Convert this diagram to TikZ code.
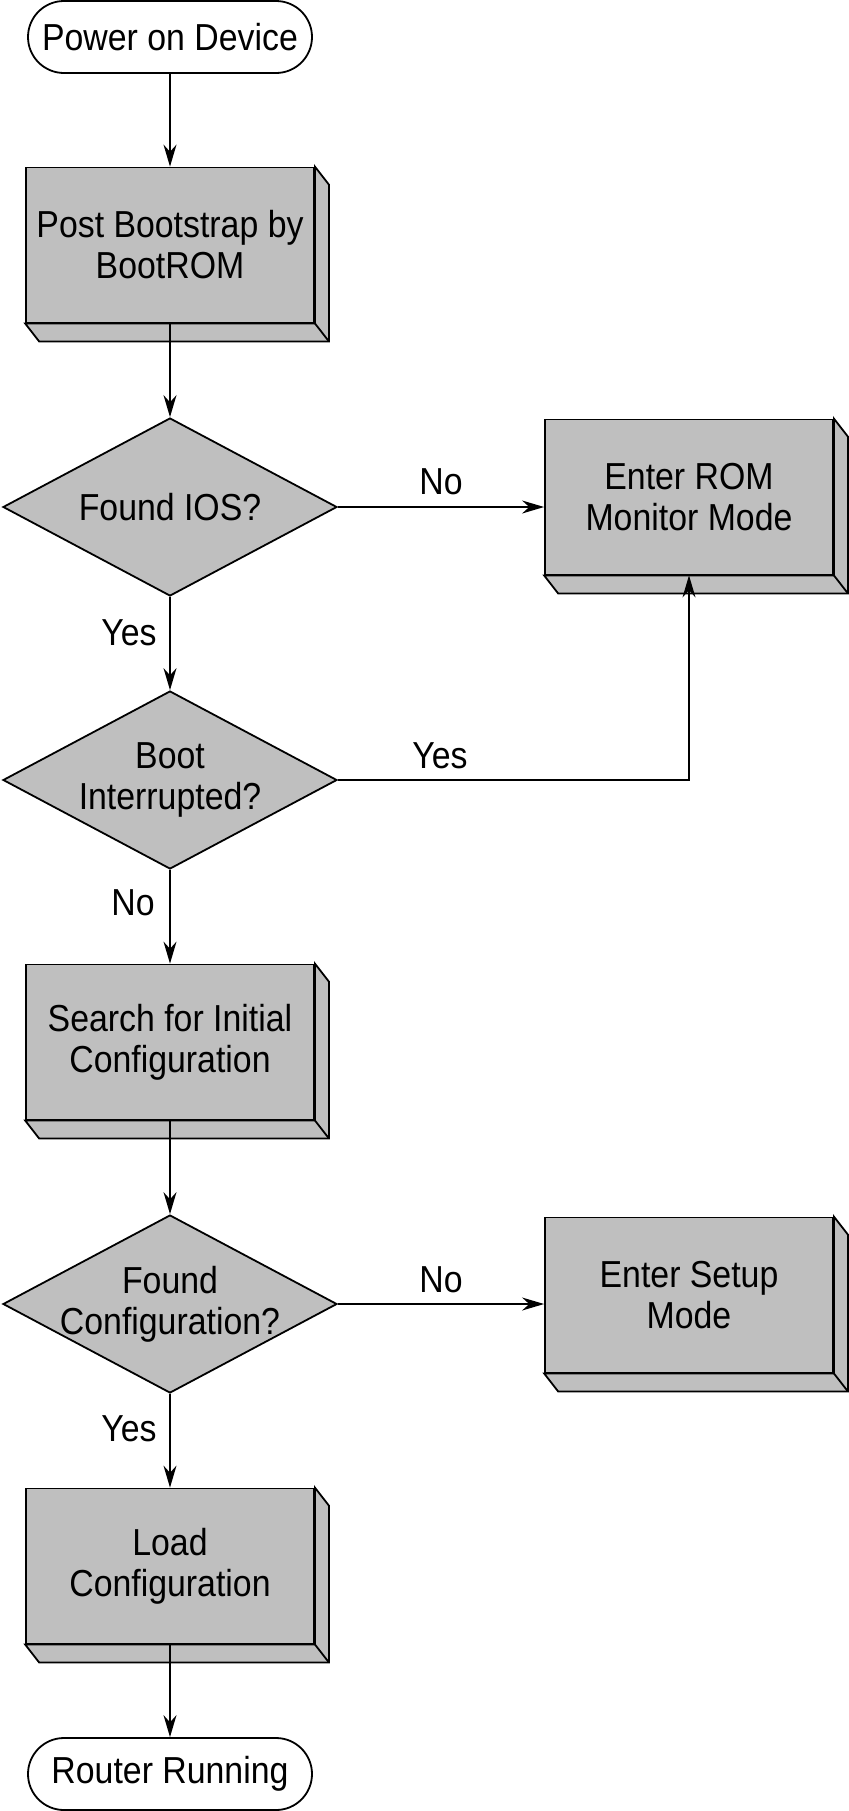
\documentclass[tikz,border=0pt]{standalone}
\usepackage{fontspec}
\setmainfont[FakeStretch=0.9]{Liberation Sans}
\usetikzlibrary{shapes.geometric,arrows.meta}
\begin{document}
\begin{tikzpicture}[x=0.5pt, y=-0.5pt, >={Stealth[length=11pt,width=6.5pt]},
		font=\fontsize{18.8}{20.5}\selectfont,
		term/.style={draw, line width=0.9pt, rounded corners=18pt, minimum width=142pt, minimum height=36pt},
		block/.style={draw, line width=0.9pt, fill=black!25, align=center, minimum width=144pt, minimum height=77.5pt},
		test/.style={diamond, draw, line width=0.9pt, fill=black!25, minimum width=167pt, minimum height=89pt, inner sep=0pt,
			label={[align=center]center:#1}},
		face/.style={draw, line width=0.9pt, fill=black!25},
		flow/.style={->, line width=0.8pt}]
	\useasboundingbox (0,0) rectangle (848,1811);
	% main column
	\node[term]  (power)     at (170,37)   {Power on Device};
	\node[block] (boot)      at (170,245)  {Post Bootstrap by\\BootROM};
	\node[test={Found IOS?}]               (foundios)  at (170,507)  {};
	\node[test={Boot\\Interrupted?}]       (interrupt) at (170,780)  {};
	\node[block] (search)    at (170,1042) {Search for Initial\\Configuration};
	\node[test={Found\\Configuration?}]    (foundcfg)  at (170,1304) {};
	\node[block] (load)      at (170,1566) {Load\\Configuration};
	\node[term]  (router)    at (170,1774) {Router Running};
	% right column
	\node[block] (rom)       at (689,497)  {Enter ROM\\Monitor Mode};
	\node[block] (setup)     at (689,1295) {Enter Setup\\Mode};
	% depth of the boxes
	\foreach \b in {boot,rom,search,setup,load}{
		\filldraw[face] (\b.north east) -- ++(14,18) -- ([shift={(14,18)}]\b.south east)
			-- ([shift={(14,18)}]\b.south west) -- (\b.south west) -- (\b.south east) -- cycle;
		\draw[line width=0.9pt] (\b.south east) -- ++(14,18);
	}
	% connectors
	\draw[flow] (power) -- (boot);
	\draw[flow] (boot.south) -- (foundios);
	\draw[flow] (foundios.east) -- (foundios.east -| rom.west);
	\draw[flow] (foundios) -- (interrupt);
	\draw[flow] (interrupt.east) -| (rom.south);
	\draw[flow] (interrupt) -- (search);
	\draw[flow] (search.south) -- (foundcfg);
	\draw[flow] (foundcfg.east) -- (foundcfg.east -| setup.west);
	\draw[flow] (foundcfg) -- (load);
	\draw[flow] (load.south) -- (router);
	% labels
	\node (no1)  at (441,482)  {No};
	\node (yes1) at (129,633)  {Yes};
	\node (yes2) at (440,756)  {Yes};
	\node (no2)  at (133,903)  {No};
	\node (no3)  at (441,1280) {No};
	\node (yes3) at (129,1429) {Yes};
\end{tikzpicture}
\end{document}
